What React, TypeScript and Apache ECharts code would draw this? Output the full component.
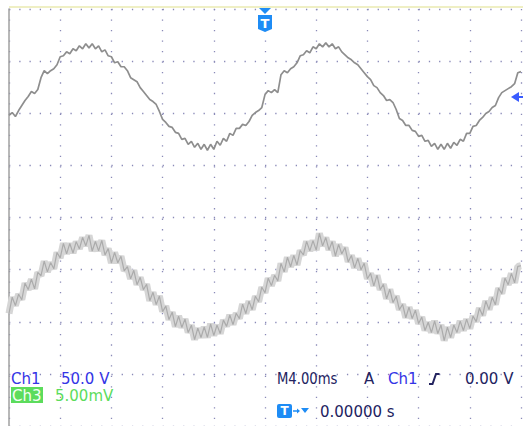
import React, { useEffect, useRef } from "react";
import * as echarts from "echarts";

// Time base: 4 ms/div, 10 divisions, trigger at centre (0 ms). Sample step 0.25 ms.
const SAMPLE_STEP_MS = 0.25;
const T_START_MS = -20;

// Ch1 (50.0 V/div), volts
const CH1_V = [
  -18.1, -15.3, -19.1, -13.4, -8.6, -3.8, 0, 4.8, 2.9, 6.7,
  18.1, 24.8, 21.9, 24.8, 26.7, 30.5, 38.2, 39.1, 42.9, 41.0,
  45.8, 43.9, 48.7, 45.8, 50.6, 46.7, 50.6, 45.8, 48.7, 42.9,
  44.8, 39.1, 38.2, 32.4, 33.4, 28.6, 28.6, 24.8, 18.1, 16.2,
  14.3, 8.6, 4.8, 1.0, -2.9, -4.8, -7.6, -14.3, -21.9, -24.8,
  -28.6, -29.6, -34.3, -35.3, -41.0, -40.1, -45.8, -42.9, -48.7, -44.8,
  -50.6, -45.8, -51.5, -45.8, -50.6, -42.9, -46.7, -40.1, -42.9, -35.3,
  -37.2, -30.5, -30.5, -26.7, -27.7, -23.9, -18.1, -15.3, -13.4, -10.5,
  1.9, 5.7, 3.8, 6.7, 3.8, 21.0, 24.8, 22.9, 26.7, 28.6,
  32.4, 39.1, 40.1, 43.9, 42.0, 47.7, 45.8, 50.6, 47.7, 51.5,
  47.7, 50.6, 45.8, 47.7, 42.9, 40.1, 37.2, 35.3, 32.4, 30.5,
  26.7, 22.9, 19.1, 16.2, 10.5, 8.6, 3.8, 1.0, -3.8, -2.9,
  -5.7, -12.4, -21.0, -22.9, -27.7, -27.7, -32.4, -33.4, -38.2, -37.2,
  -42.9, -42.0, -47.7, -44.8, -50.6, -45.8, -50.6, -44.8, -49.6, -43.9,
  -46.7, -41.0, -42.9, -35.3, -35.3, -28.6, -27.7, -22.9, -20.0, -16.2,
  -14.3, -10.5, -8.6, -1.0, 3.8, 5.7, 7.6, 9.5, 12.4, 22.9,
  23.9,
];

// Ch3 (5.00 mV/div), millivolts
const CH3_MV = [
  -2.49, -0.93, -1.74, -0.65, -1.17, 0.41, -0.2, 0.79, -0.13, 1.45,
  1.13, 2.52, 1.5, 2.39, 1.79, 3.36, 2.84, 4.24, 3.23, 4.22,
  3.31, 4.4, 3.7, 4.8, 4.0, 5.0, 3.5, 4.41, 3.51, 4.52,
  3.13, 3.73, 2.35, 3.36, 2.37, 2.99, 1.6, 2.01, 0.83, 1.65,
  0.27, 0.98, -0.2, 0.31, -1.27, -0.46, -1.64, -0.82, -2.31, -1.79,
  -3.08, -2.37, -3.76, -2.74, -3.83, -3.03, -4.32, -3.61, -5.0, -3.9,
  -4.8, -3.79, -4.79, -3.49, -4.6, -3.61, -4.42, -3.13, -3.73, -2.64,
  -3.56, -2.47, -2.98, -1.59, -2.5, -1.31, -2.13, -0.84, -1.36, 0.03,
  -0.5, 0.89, 0.18, 1.17, 0.64, 2.31, 1.5, 2.9, 1.99, 3.08,
  2.16, 3.55, 3.13, 4.42, 3.51, 4.5, 3.59, 5.19, 3.99, 4.79,
  3.6, 4.41, 3.02, 4.13, 3.23, 3.84, 2.46, 3.07, 1.88, 2.79,
  1.7, 2.32, 0.84, 1.35, 0.16, 1.18, -0.21, 0.3, -1.08, -0.17,
  -1.44, -0.83, -2.12, -1.61, -2.9, -1.89, -2.98, -2.17, -3.46, -2.84,
  -4.13, -3.33, -4.32, -3.21, -4.41, -3.6, -5.1, -3.8, -4.8, -3.6,
  -4.31, -3.22, -4.13, -3.03, -3.94, -2.75, -3.27, -1.98, -2.69, -1.3,
  -2.12, -0.94, -1.65, -0.07, -0.59, 0.89, 0.27, 1.36, 0.45, 2.02,
  2.09,
];

// Channel settings
const CH1_VOLTS_PER_DIV = 50;
const CH1_OFFSET_DIV = 2.32; // ground marker position above centre
const CH3_MV_PER_DIV = 5;
const CH3_OFFSET_DIV = -1.343;

// Readout texts
const CH1_LABEL = "Ch1";
const CH1_SCALE = "50.0 V";
const CH3_LABEL = "Ch3";
const CH3_SCALE = "5.00mV";
const TIMEBASE = "M4.00ms";
const TRIG_MODE = "A";
const TRIG_SRC = "Ch1";
const TRIG_LEVEL = "0.00 V";
const TRIG_POS = "0.00000 s";

const FONT = '"DejaVu Sans", sans-serif';
const NAVY = "#23235f";
const BLUE = "#3434e6";
const GREEN = "#5cdc5c";
const MARK_BLUE = "#1e8cf5";

function txt(x: number, y: number, text: string, fill: string, extra: any = {}) {
  return {
    type: "text",
    x,
    y,
    z: 20,
    ...extra,
    style: { text, fill, fontSize: 15, lineHeight: 13, fontFamily: FONT, verticalAlign: "bottom", ...(extra.style || {}) },
  };
}

export default function App() {
  const ref = useRef<HTMLDivElement>(null);

  useEffect(() => {
    if (!ref.current) return;
    const chart = echarts.init(ref.current, undefined, { renderer: "svg" });

    const ch1Data = CH1_V.map((v, i) => [T_START_MS + i * SAMPLE_STEP_MS, v]);
    const ch3Data = CH3_MV.map((v, i) => [T_START_MS + i * SAMPLE_STEP_MS, v]);

    const dot = "#8a8ab8";

    const option: any = {
      animation: false,
      backgroundColor: "#ffffff",
      grid: { left: 9, right: 2, top: 9, bottom: -2.2, containLabel: false },
      xAxis: {
        type: "value",
        min: -20,
        max: 20,
        interval: 4,
        axisLine: { show: false },
        axisTick: { show: false },
        axisLabel: { show: false },
        splitLine: {
          show: true,
          lineStyle: { color: dot, width: 1.3, type: [1.3, 9.18] },
        },
      },
      yAxis: [
        {
          type: "value",
          min: -4,
          max: 4,
          interval: 1,
          axisLine: { show: true, onZero: false, lineStyle: { color: "#a0a0a0", width: 1.5 } },
          axisTick: { show: false },
          axisLabel: { show: false },
          splitLine: {
            show: true,
            lineStyle: { color: dot, width: 1.3, type: [1.3, 8.94] },
          },
        },
        {
          type: "value",
          min: (-4 - CH1_OFFSET_DIV) * CH1_VOLTS_PER_DIV,
          max: (4 - CH1_OFFSET_DIV) * CH1_VOLTS_PER_DIV,
          show: false,
          splitLine: { show: false },
        },
        {
          type: "value",
          min: (-4 - CH3_OFFSET_DIV) * CH3_MV_PER_DIV,
          max: (4 - CH3_OFFSET_DIV) * CH3_MV_PER_DIV,
          show: false,
          splitLine: { show: false },
        },
      ],
      series: [
        {
          type: "line",
          yAxisIndex: 2,
          data: ch3Data,
          showSymbol: false,
          lineStyle: { color: "#d6d6d6", width: 7 },
          z: 2,
        },
        {
          type: "line",
          yAxisIndex: 2,
          data: ch3Data,
          showSymbol: false,
          lineStyle: { color: "#ababab", width: 1.2 },
          z: 3,
        },
        {
          type: "line",
          yAxisIndex: 1,
          data: ch1Data,
          showSymbol: false,
          lineStyle: { color: "#8e8e8e", width: 1.7 },
          z: 4,
        },
      ],
      graphic: [
        // top border
        { type: "line", shape: { x1: 9, y1: 7, x2: 523, y2: 7 }, style: { stroke: "#efefc4", lineWidth: 2 }, z: 10 },
        // trigger position marker
        { type: "polygon", shape: { points: [[259, 8], [271, 8], [265, 14]] }, style: { fill: MARK_BLUE }, z: 20 },
        {
          type: "polygon",
          shape: { points: [[258, 15], [272, 15], [272, 29], [265, 32], [258, 29]] },
          style: { fill: MARK_BLUE },
          z: 20,
        },
        {
          type: "text",
          x: 265,
          y: 23,
          style: { text: "T", fill: "#ffffff", fontSize: 13, fontWeight: "bold", fontFamily: FONT, align: "center", verticalAlign: "middle" },
          z: 21,
        },
        // trigger level arrow
        { type: "polygon", shape: { points: [[511, 97], [519, 92], [519, 102]] }, style: { fill: "#3a5cff" }, z: 20 },
        { type: "line", shape: { x1: 517, y1: 97, x2: 523, y2: 97 }, style: { stroke: "#3a5cff", lineWidth: 2 }, z: 20 },
        // readouts
        txt(11, 385, CH1_LABEL, BLUE),
        txt(61, 385, CH1_SCALE, BLUE),
        { type: "rect", shape: { x: 11, y: 387, width: 32, height: 16 }, style: { fill: GREEN }, z: 19 },
        txt(12, 402, CH3_LABEL, "#f4fff4"),
        txt(55, 402, CH3_SCALE, GREEN),
        txt(277, 385, TIMEBASE, NAVY, { scaleX: 0.88 }),
        txt(364, 385, TRIG_MODE, NAVY),
        txt(388, 385, TRIG_SRC, BLUE),
        {
          type: "polyline",
          shape: { points: [[429, 384], [432.5, 384], [436, 374], [439.5, 374]] },
          style: { stroke: NAVY, lineWidth: 2, fill: null },
          z: 20,
        },
        txt(465, 385, TRIG_LEVEL, NAVY),
        // trigger position readout
        { type: "rect", shape: { x: 277, y: 404, width: 15, height: 14, r: 2 }, style: { fill: MARK_BLUE }, z: 19 },
        {
          type: "text",
          x: 284.5,
          y: 411,
          style: { text: "T", fill: "#ffffff", fontSize: 12, fontWeight: "bold", fontFamily: FONT, align: "center", verticalAlign: "middle" },
          z: 20,
        },
        { type: "line", shape: { x1: 293, y1: 411, x2: 299, y2: 411 }, style: { stroke: MARK_BLUE, lineWidth: 1.5 }, z: 20 },
        { type: "polygon", shape: { points: [[297, 408.5], [300, 411], [297, 413.5]] }, style: { fill: MARK_BLUE }, z: 20 },
        { type: "polygon", shape: { points: [[301, 408], [309, 408], [305, 413]] }, style: { fill: MARK_BLUE }, z: 20 },
        txt(320, 418, TRIG_POS, NAVY),
      ],
    };

    chart.setOption(option);
    return () => chart.dispose();
  }, []);

  return (
    <div
      ref={ref}
      style={{ position: "fixed", left: 0, top: 0, width: 523, height: 426, background: "#fff" }}
    />
  );
}
